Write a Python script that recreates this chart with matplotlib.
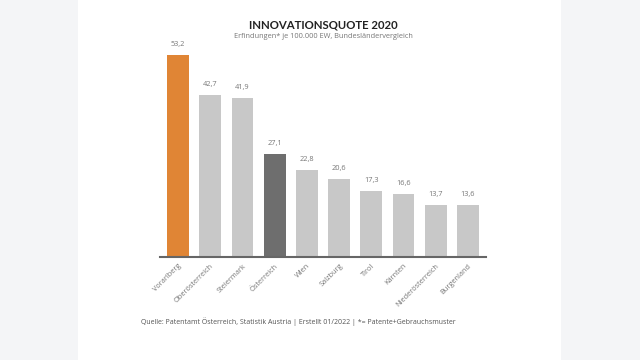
import matplotlib
matplotlib.use("Agg")
import matplotlib.pyplot as plt

categories = ["Vorarlberg", "Oberösterreich", "Steiermark", "Österreich", "Wien",
              "Salzburg", "Tirol", "Kärnten", "Niederösterreich", "Burgenland"]
values = [53.2, 42.7, 41.9, 27.1, 22.8, 20.6, 17.3, 16.6, 13.7, 13.6]
value_labels = ["53,2", "42,7", "41,9", "27,1", "22,8", "20,6", "17,3", "16,6", "13,7", "13,6"]

ORANGE = "#E08535"
LIGHT = "#C8C8C8"
DARK = "#6E6E6E"
colors = [ORANGE, LIGHT, LIGHT, DARK] + [LIGHT] * 6

plt.rcParams['font.family'] = ['Open Sans', 'DejaVu Sans']

W, H = 640, 360
fig = plt.figure(figsize=(6.4, 3.6), dpi=100, facecolor="#F4F5F7")

# white panel
bg = fig.add_axes([78 / W, 0, (561 - 78) / W, 1], zorder=-10)
bg.set_facecolor("white")
bg.set_xticks([])
bg.set_yticks([])
for s in bg.spines.values():
    s.set_visible(False)

base_px = 257
top_px = 257 - 55 * 3.797
ax = fig.add_axes([160 / W, 1 - base_px / H, (486 - 160) / W, (base_px - top_px) / H], zorder=1)
ax.set_facecolor("none")

x = list(range(len(categories)))
ax.bar(x, values, width=0.68, color=colors, zorder=2)
for xi, v, lab in zip(x, values, value_labels):
    ax.annotate(lab, (xi, v), xytext=(0, 5), textcoords="offset points",
                ha="center", va="bottom", fontsize=5.3, color="#777777")

ax.set_xlim(-0.56, 9.56)
ax.set_ylim(0, 55)
for s in ["top", "right", "left"]:
    ax.spines[s].set_visible(False)
ax.spines["bottom"].set_color("#666666")
ax.spines["bottom"].set_linewidth(1.5)
ax.set_yticks([])
ax.set_xticks(x)
ax.set_xticklabels(categories, rotation=45, ha="right", rotation_mode="anchor",
                   fontsize=5.3, color="#777777")
ax.tick_params(axis="x", length=0, pad=4)

fig.text(323.5 / W, 1 - 25 / H, "INNOVATIONSQUOTE 2020", ha="center", va="center",
         fontsize=8.2, fontweight="bold", color="#222222", family=["Lato", "DejaVu Sans"])
fig.text(323 / W, 1 - 36.5 / H, "Erfindungen* je 100.000 EW, Bundesländervergleich",
         ha="center", va="center", fontsize=5.3, color="#777777")
fig.text(141 / W, 1 - 322 / H,
         "Quelle: Patentamt Österreich, Statistik Austria | Erstellt 01/2022 | *= Patente+Gebrauchsmuster",
         ha="left", va="center", fontsize=5.05, color="#555555")

fig.savefig("out.png", dpi=100, facecolor=fig.get_facecolor())
